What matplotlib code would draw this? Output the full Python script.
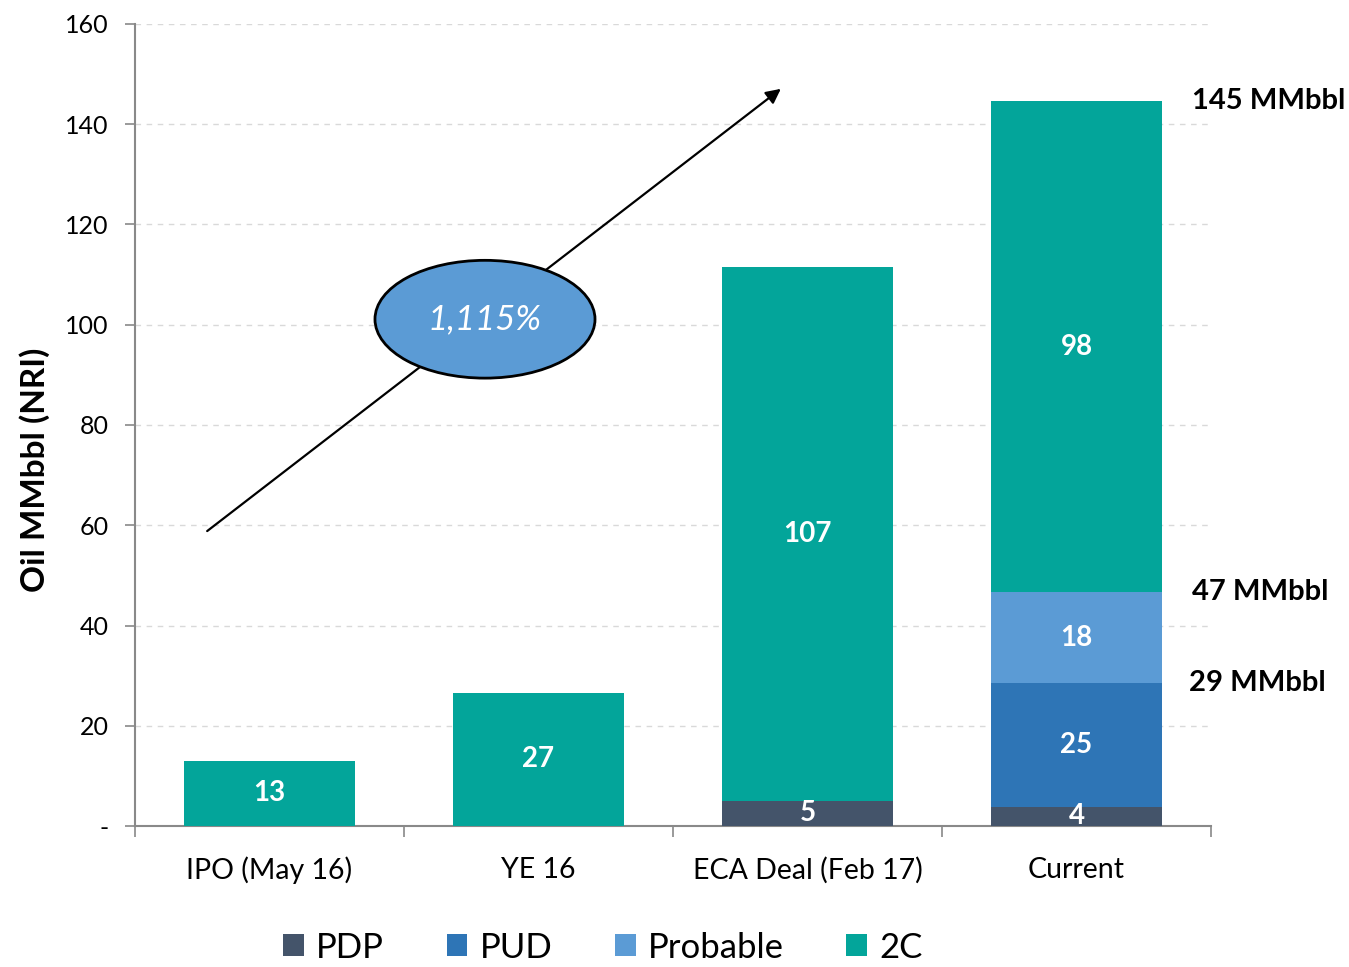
import matplotlib
matplotlib.use("Agg")
import matplotlib.pyplot as plt
import numpy as np
from matplotlib.patches import Ellipse, Patch
from matplotlib.ticker import FuncFormatter, FixedLocator

plt.rcParams['font.family'] = ['Lato', 'DejaVu Sans']

# data
categories = ["IPO (May 16)", "YE 16", "ECA Deal (Feb 17)", "Current"]
series_names = ["PDP", "PUD", "Probable", "2C"]
pdp = [0, 0, 5.0, 3.8]
pud = [0, 0, 0, 24.8]
probable = [0, 0, 0, 18.0]
c2 = [13.0, 26.6, 106.6, 98.1]
growth_label = "1,115%"

colors = ["#44546A", "#2E75B6", "#5B9BD5", "#03A59A"]

x = np.arange(len(categories))
stack = np.array([pdp, pud, probable, c2])
bottoms = np.vstack([np.zeros(len(categories)), np.cumsum(stack, axis=0)[:-1]])

fig = plt.figure(figsize=(13.49, 9.67), dpi=100)
ax = fig.add_axes([0.1001, 0.1458, 0.7976, 0.8294])

width = 0.636
for i, name in enumerate(series_names):
    ax.bar(x, stack[i], width, bottom=bottoms[i], color=colors[i], zorder=3, label=name)
    for j in range(len(categories)):
        v = stack[i][j]
        if v > 0:
            ax.text(x[j], bottoms[i][j] + v / 2, f"{v:.0f}", ha='center', va='center',
                    color='white', fontsize=20, fontweight='bold', zorder=5)

# totals on the right of the Current bar
cur = len(categories) - 1
tops = np.cumsum(stack[:, cur])
for k, off in [(1, 0.099), (2, 0.112), (3, 0.112)]:
    ax.text(x[cur] + width / 2 + off, tops[k], f"{tops[k]:.0f} MMbbl", ha='left', va='center',
            fontsize=21, fontweight='bold', color='black', clip_on=False)

# growth arrow and ellipse
ax.annotate("", xy=(1.909, 147.4), xytext=(-0.24, 58.5),
            arrowprops=dict(arrowstyle='-|>', color='black', lw=1.6, mutation_scale=22),
            zorder=4)
ell = Ellipse((0.801, 101.1), 0.818, 23.5, facecolor="#5B9BD5", edgecolor='black', lw=2, zorder=6)
ax.add_patch(ell)
ax.text(0.801, 101.1, growth_label, ha='center', va='center', color='white',
        fontsize=25, fontstyle='italic', zorder=7)

ax.set_xlim(-0.5, len(categories) - 0.5)
ax.set_ylim(0, 160)
ax.set_yticks(np.arange(0, 161, 20))
ax.yaxis.set_major_formatter(FuncFormatter(lambda v, p: "-" if v == 0 else f"{v:.0f}"))
ax.set_xticks(x)
ax.set_xticklabels(categories, fontsize=20.5)
ax.xaxis.set_minor_locator(FixedLocator(np.arange(-0.5, len(categories), 1.0)))
ax.tick_params(axis='x', which='major', length=0, pad=22)
ax.tick_params(axis='x', which='minor', length=8, color='#898989', width=1.2)
ax.tick_params(axis='y', length=7, color='#898989', width=1.2, labelsize=18, pad=12)

ax.grid(axis='y', linestyle=(0, (4, 4)), color='#D9D9D9', lw=1)
ax.set_axisbelow(True)
for s in ['top', 'right']:
    ax.spines[s].set_visible(False)
for s in ['left', 'bottom']:
    ax.spines[s].set_color('#898989')
    ax.spines[s].set_linewidth(1.5)

ax.set_ylabel("Oil MMbbl (NRI)", fontsize=24, fontweight='bold')
ax.yaxis.set_label_coords(-0.079, 0.444)

handles = [Patch(facecolor=c) for c in colors]
fig.legend(handles, series_names, loc='center', bbox_to_anchor=(0.447, 0.02), ncol=4,
           frameon=False, fontsize=25, handlelength=0.6, handleheight=0.6,
           columnspacing=1.8, handletextpad=0.35)

fig.savefig("out.png", dpi=100)
